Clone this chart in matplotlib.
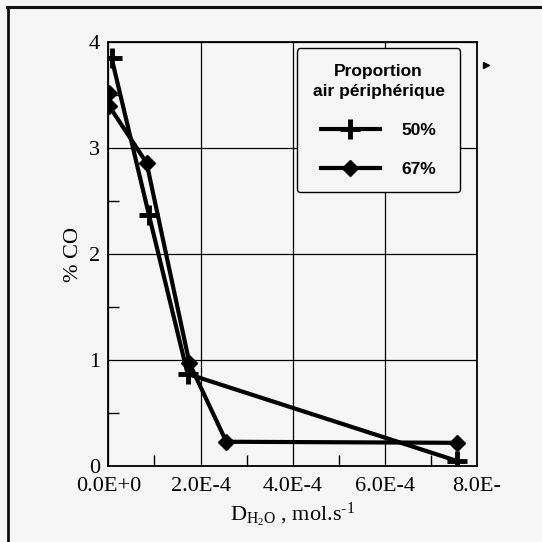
import matplotlib
matplotlib.use("Agg")
from matplotlib import pyplot as plt
from matplotlib.lines import Line2D
from matplotlib.ticker import MultipleLocator

# débit d'eau (mol/s) et teneur en CO (%)
x_50 = [0.07e-4, 0.88e-4, 1.72e-4, 7.56e-4]
co_50 = [3.85, 2.37, 0.87, 0.05]

x_67 = [0.015e-4, 0.015e-4, 0.83e-4, 1.76e-4, 2.56e-4, 7.56e-4]
co_67 = [3.52, 3.40, 2.86, 0.97, 0.23, 0.22]

labels = ["50%", "67%"]
xticks = [0, 2e-4, 4e-4, 6e-4, 8e-4]
xticklabels = ["0.0E+0", "2.0E-4", "4.0E-4", "6.0E-4", "8.0E-"]

bg = "#f6f6f6"
serif = ["Liberation Serif", "DejaVu Serif"]
sans = ["Liberation Sans", "DejaVu Sans"]

plt.rcParams["mathtext.fontset"] = "custom"
plt.rcParams["mathtext.rm"] = "Liberation Serif"
plt.rcParams["mathtext.it"] = "Liberation Serif:italic"

fig = plt.figure(figsize=(5.42, 5.42), dpi=100, facecolor=bg)
ax = fig.add_axes([0.2, 0.14, 0.68, 0.782], facecolor=bg)

# cadre autour de la figure (haut et gauche)
fig.add_artist(Line2D([0.013, 1.0], [0.988, 0.988], transform=fig.transFigure, color="#111111", lw=2.2))
fig.add_artist(Line2D([0.015, 0.015], [0.0, 0.988], transform=fig.transFigure, color="#111111", lw=2.0))

ax.plot(x_50, co_50, color="black", lw=3.0, marker="+", ms=15, mew=3.5, label=labels[0], zorder=3)
ax.plot(x_67, co_67, color="black", lw=3.0, marker="D", ms=8, mfc="black", label=labels[1], zorder=3)

# petit point à droite de la légende
ax.plot([1.025], [0.947], transform=ax.transAxes, marker=">", ms=4, color="black", clip_on=False)

ax.set_xlim(0, 8e-4)
ax.set_ylim(0, 4)
ax.set_xticks(xticks)
ax.set_xticklabels(xticklabels)
ax.xaxis.set_minor_locator(MultipleLocator(1e-4))
ax.yaxis.set_major_locator(MultipleLocator(1))
ax.yaxis.set_minor_locator(MultipleLocator(0.5))
ax.grid(True, which="major", color="black", lw=0.9)
ax.tick_params(which="both", direction="in", length=0, labelsize=16)
ax.tick_params(axis="x", pad=8)
ax.tick_params(axis="y", pad=6)
ax.tick_params(which="minor", length=8, width=1)
for lab in ax.get_xticklabels() + ax.get_yticklabels():
    lab.set_family(serif)
for s in ax.spines.values():
    s.set_linewidth(1.3)

ax.set_ylabel("% CO", family=serif, fontsize=16, labelpad=4)
ax.set_xlabel(r"D$_{\mathrm{H_2O}}$ , mol.s$^{\text{-}1}$", family=serif, fontsize=16, labelpad=3)

leg = ax.legend(title="Proportion\nair périphérique", loc="upper right",
                bbox_to_anchor=(0.978, 1.006), frameon=True, fancybox=True,
                edgecolor="black", facecolor=bg, framealpha=1, handlelength=3.4,
                handletextpad=1.25, labelspacing=1.35, borderpad=0.9,
                alignment="center",
                prop={"family": sans, "size": 12.5, "weight": "bold"})
leg.get_title().set_fontproperties({"family": sans, "size": 12.5, "weight": "bold"})
leg.get_title().set_multialignment("center")
leg.get_title().set_linespacing(1.45)
leg.get_frame().set_linewidth(1.0)

fig.savefig("out.png", dpi=100, facecolor=bg)
